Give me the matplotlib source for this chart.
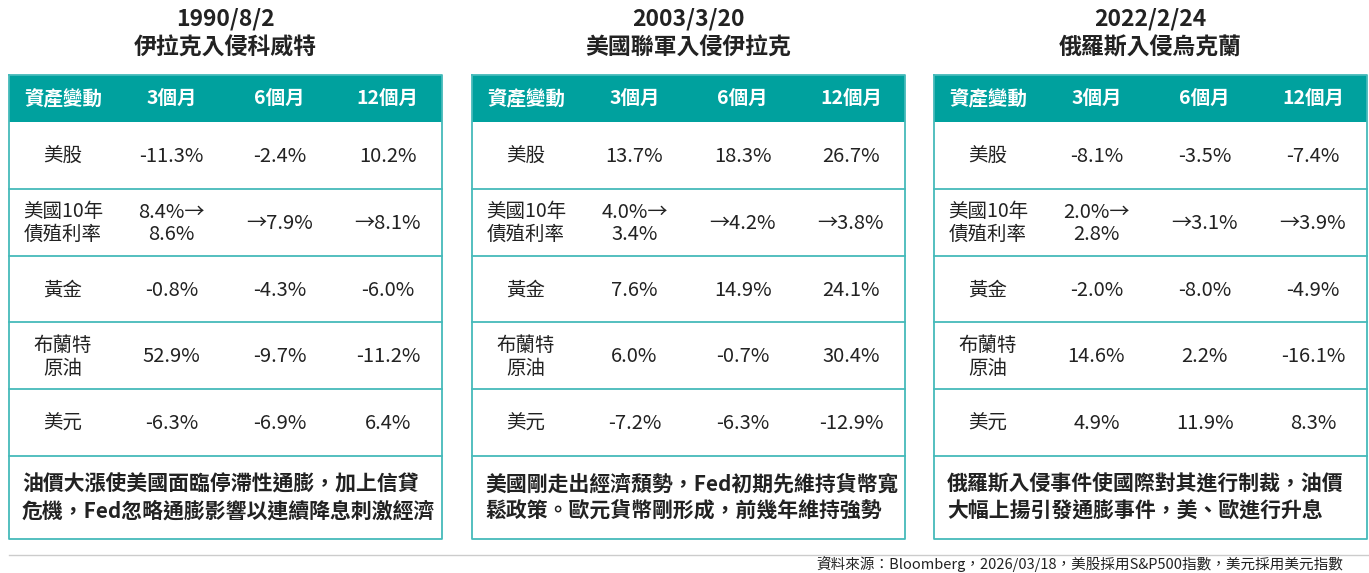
import matplotlib
matplotlib.use("Agg")
import matplotlib.pyplot as plt
from matplotlib.patches import Rectangle

plt.rcParams['font.family'] = ['Noto Sans CJK TC', 'DejaVu Sans']

# data
dates = ["1990/8/2", "2003/3/20", "2022/2/24"]
events = ["伊拉克入侵科威特", "美國聯軍入侵伊拉克", "俄羅斯入侵烏克蘭"]
headers = ["資產變動", "3個月", "6個月", "12個月"]
assets = ["美股", "美國10年\n債殖利率", "黃金", "布蘭特\n原油", "美元"]

values_1990 = [
    ["-11.3%", "-2.4%", "10.2%"],
    ["8.4%→\n8.6%", "→7.9%", "→8.1%"],
    ["-0.8%", "-4.3%", "-6.0%"],
    ["52.9%", "-9.7%", "-11.2%"],
    ["-6.3%", "-6.9%", "6.4%"],
]
values_2003 = [
    ["13.7%", "18.3%", "26.7%"],
    ["4.0%→\n3.4%", "→4.2%", "→3.8%"],
    ["7.6%", "14.9%", "24.1%"],
    ["6.0%", "-0.7%", "30.4%"],
    ["-7.2%", "-6.3%", "-12.9%"],
]
values_2022 = [
    ["-8.1%", "-3.5%", "-7.4%"],
    ["2.0%→\n2.8%", "→3.1%", "→3.9%"],
    ["-2.0%", "-8.0%", "-4.9%"],
    ["14.6%", "2.2%", "-16.1%"],
    ["4.9%", "11.9%", "8.3%"],
]
notes = [
    "油價大漲使美國面臨停滯性通膨，加上信貸\n危機，Fed忽略通膨影響以連續降息刺激經濟",
    "美國剛走出經濟頹勢，Fed初期先維持貨幣寬\n鬆政策。歐元貨幣剛形成，前幾年維持強勢",
    "俄羅斯入侵事件使國際對其進行制裁，油價\n大幅上揚引發通膨事件，美、歐進行升息",
]
source = "資料來源：Bloomberg，2026/03/18，美股採用S&P500指數，美元採用美元指數"

all_values = [values_1990, values_2003, values_2022]

TEAL = "#00A19E"
LINE = "#45BABA"
TXT = "#222222"

fig = plt.figure(figsize=(13.69, 5.73), dpi=100)
ax = fig.add_axes([0, 0, 1, 1])
ax.set_xlim(0, 1369)
ax.set_ylim(573, 0)
ax.axis("off")

lefts = [9, 472, 934]
width = 433
head_top, head_bot = 75, 122
row_h = 66.8
note_bot = 539

for t in range(3):
    x0 = lefts[t]
    cx = x0 + width / 2
    ax.text(cx, 19, dates[t], ha="center", va="center", fontsize=16.5,
            fontweight="bold", color=TXT)
    ax.text(cx, 48, events[t], ha="center", va="center", fontsize=16.5,
            fontweight="bold", color=TXT)

    ax.add_patch(Rectangle((x0, head_top), width, head_bot - head_top,
                           facecolor=TEAL, edgecolor="none"))
    col_w = width / 4
    for j, h in enumerate(headers):
        ax.text(x0 + col_w * (j + 0.5), (head_top + head_bot) / 2 + 1, h,
                ha="center", va="center", fontsize=14, fontweight="bold",
                color="white")

    for i, a in enumerate(assets):
        y0 = head_bot + i * row_h
        yc = y0 + row_h / 2 + 1
        ax.text(x0 + col_w * 0.5, yc, a, ha="center", va="center",
                fontsize=14, color=TXT, linespacing=1.1)
        for j, v in enumerate(all_values[t][i]):
            ax.text(x0 + col_w * (j + 1.5), yc, v, ha="center", va="center",
                    fontsize=14.5, color=TXT, linespacing=1.05)
        ax.plot([x0, x0 + width], [y0 + row_h, y0 + row_h], color=LINE, lw=1.3)

    ax.text(x0 + 13, 498, notes[t], ha="left", va="center", fontsize=15,
            fontweight="bold", color=TXT, linespacing=1.35)

    # outer border
    ax.plot([x0, x0, x0 + width, x0 + width, x0],
            [head_top, note_bot, note_bot, head_top, head_top],
            color=LINE, lw=1.3)

ax.plot([9, 1369], [555, 555], color="#cccccc", lw=1)
ax.text(1343, 564, source, ha="right", va="center", fontsize=10.5, color=TXT)

fig.savefig("out.png", dpi=100)
